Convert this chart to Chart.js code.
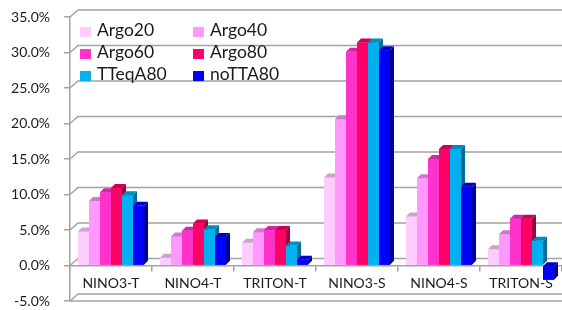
<!DOCTYPE html>
<html>
<head>
<meta charset="utf-8">
<script src="https://cdn.jsdelivr.net/npm/chart.js@4/dist/chart.umd.min.js"></script>
<style>
  html, body { margin: 0; padding: 0; background: #fff; }
  #wrap { position: relative; width: 562px; height: 310px; }
  #legend {
    position: absolute; left: 80px; top: 19px;
    display: grid; grid-template-columns: 113px 100px; row-gap: 0;
    font: 17.5px Lato, sans-serif; color: #1a1a1a;
  }
  #legend div { height: 22px; line-height: 22px; white-space: nowrap; }
  #legend span { display: inline-block; width: 11px; height: 10px; margin-right: 6px; vertical-align: -1px; }
</style>
</head>
<body>
<div id="wrap">
  <canvas id="c" width="562" height="310"></canvas>
  <div id="legend"></div>
</div>
<script>
// ===== Datos =====
const categories = ["NINO3-T", "NINO4-T", "TRITON-T", "NINO3-S", "NINO4-S", "TRITON-S"];
const seriesNames = ["Argo20", "Argo40", "Argo60", "Argo80", "TTeqA80", "noTTA80"];
const argo20  = [4.8, 1.1, 3.2, 12.4,  6.9,  2.3];
const argo40  = [9.1, 4.1, 4.7, 20.6, 12.3,  4.4];
const argo60  = [10.3, 4.9, 5.0, 30.1, 15.0, 6.6];
const argo80  = [10.9, 5.9, 5.0, 31.4, 16.4, 6.6];
const tteqA80 = [9.9, 5.1, 2.8, 31.4, 16.4,  3.5];
const noTTA80 = [8.4, 4.0, 0.8, 30.3, 11.1, -2.0];
const yTicks = [-5, 0, 5, 10, 15, 20, 25, 30, 35];

const seriesValues = [argo20, argo40, argo60, argo80, tteqA80, noTTA80];
const colors = ["#FFCCFF", "#FF99FF", "#FF33CC", "#FF0066", "#00B0F0", "#0000FF"];

const DX = 4, DY = 4;        // profundidad de barras
const WX = 8, WY = 7;        // profundidad de la pared
const GRID = "#a3a3a3";

function shade(hex, f) {
  const n = parseInt(hex.slice(1), 16);
  const r = Math.round(((n >> 16) & 255) * f);
  const g = Math.round(((n >> 8) & 255) * f);
  const b = Math.round((n & 255) * f);
  return `rgb(${r},${g},${b})`;
}

// Pared del fondo + barras en 3D (de izquierda a derecha)
const wallPlugin = {
  id: "wall",
  beforeDatasetsDraw(chart) {
    const { ctx, chartArea, scales } = chart;
    const y = scales.y;
    ctx.save();
    ctx.strokeStyle = GRID;
    ctx.lineWidth = 1.5;
    yTicks.forEach(v => {
      const py = y.getPixelForValue(v);
      ctx.beginPath();
      ctx.moveTo(chartArea.left, py);
      ctx.lineTo(chartArea.left + WX, py - WY);
      ctx.lineTo(chartArea.right, py - WY);
      ctx.stroke();
    });
    const pb = y.getPixelForValue(-5);
    ctx.beginPath();
    ctx.moveTo(chartArea.left, pb);
    ctx.lineTo(chartArea.right, pb);
    ctx.stroke();
    ctx.restore();
  },
  afterDatasetsDraw(chart) {
    const { ctx } = chart;
    const bars = [];
    chart.data.datasets.forEach((ds, i) => {
      chart.getDatasetMeta(i).data.forEach(bar => {
        const p = bar.getProps(["x", "y", "base", "width"], true);
        bars.push({ ...p, color: colors[i] });
      });
    });
    bars.sort((a, b) => a.x - b.x);
    ctx.save();
    bars.forEach(({ x, y, base, width, color }) => {
      const l = x - width / 2, r = x + width / 2;
      const top = Math.min(y, base), bot = Math.max(y, base);
      ctx.fillStyle = color;
      ctx.fillRect(l, top, width, bot - top);
      ctx.fillStyle = shade(color, 0.8);
      ctx.beginPath();
      ctx.moveTo(l, top);
      ctx.lineTo(l + DX, top - DY);
      ctx.lineTo(r + DX, top - DY);
      ctx.lineTo(r, top);
      ctx.closePath();
      ctx.fill();
      ctx.fillStyle = shade(color, 0.62);
      ctx.beginPath();
      ctx.moveTo(r, top);
      ctx.lineTo(r + DX, top - DY);
      ctx.lineTo(r + DX, bot - DY);
      ctx.lineTo(r, bot);
      ctx.closePath();
      ctx.fill();
    });
    ctx.restore();
  }
};

const datasets = seriesNames.map((name, i) => ({
  label: name,
  data: seriesValues[i],
  backgroundColor: colors[i],
  borderWidth: 0
}));

new Chart(document.getElementById("c"), {
  type: "bar",
  data: { labels: categories, datasets },
  options: {
    responsive: false,
    animation: false,
    devicePixelRatio: 1,
    layout: { padding: { top: 17, bottom: 9, left: 0, right: 0 } },
    datasets: { bar: { categoryPercentage: 0.805, barPercentage: 1 } },
    plugins: { legend: { display: false }, tooltip: { enabled: false } },
    scales: {
      x: {
        position: { y: 0 },
        grid: { offset: true, drawOnChartArea: false, drawTicks: true, tickLength: 5, color: GRID, lineWidth: 1.5 },
        border: { display: true, color: GRID, width: 1.5 },
        ticks: { color: "#1a1a1a", font: { family: "Lato", size: 14 }, padding: 5, maxRotation: 0 }
      },
      y: {
        min: -5, max: 35,
        afterBuildTicks: (s) => { s.ticks = yTicks.map(v => ({ value: v })); },
        afterFit: (s) => { s.width = 70; s.paddingTop = 0; s.paddingBottom = 0; },
        grid: { drawOnChartArea: false, drawTicks: true, tickLength: 6, color: GRID, lineWidth: 1.5 },
        border: { display: true, color: GRID, width: 1.5 },
        ticks: {
          color: "#1a1a1a", font: { family: "Lato", size: 14 }, padding: 14,
          callback: (v) => Number(v).toFixed(1) + "%"
        }
      }
    }
  },
  plugins: [wallPlugin]
});

// Leyenda dentro del área
const lg = document.getElementById("legend");
lg.innerHTML = seriesNames
  .map((n, i) => `<div><span style="background:${colors[i]}"></span>${n}</div>`)
  .join("");
</script>
</body>
</html>
